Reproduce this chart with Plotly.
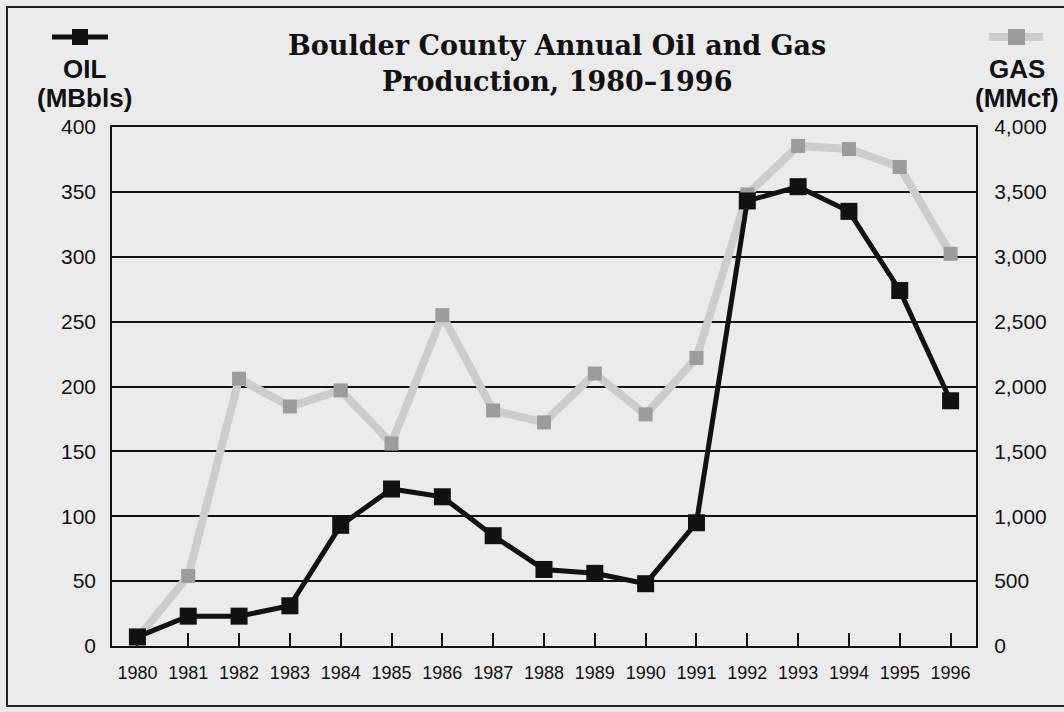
import plotly.graph_objects as go

years = list(range(1980, 1997))
oil_mbbls = [7, 23, 23, 31, 93, 121, 115, 85, 59, 56, 48, 95, 343, 354, 335, 274, 189]
gas_mmcf = [60, 540, 2060, 1846, 1970, 1560, 2550, 1815, 1723, 2100, 1785, 2220, 3480, 3854, 3830, 3692, 3023]
oil_ticks = list(range(0, 401, 50))
gas_ticks = list(range(0, 4001, 500))

W, H = 1064, 712
L, R, T, B = 112, 976, 127, 646  # plot area in pixels
BG = "#ebebeb"
INK = "#111111"
GAS_LINE = "#cccccc"
GAS_MARK = "#9c9c9c"
SANS = "Liberation Sans, Arial, sans-serif"


def px(x):
    return (x - L) / (R - L)


def py(y):
    return (B - y) / (B - T)


fig = go.Figure()
# gas sits on the base axis (y, right side) so that oil on the overlay axis is drawn on top
fig.add_trace(go.Scatter(
    x=years, y=gas_mmcf, yaxis="y", mode="lines+markers", name="GAS",
    line=dict(color=GAS_LINE, width=8),
    marker=dict(symbol="square", size=14, color=GAS_MARK),
))
fig.add_trace(go.Scatter(
    x=years, y=oil_mbbls, yaxis="y2", mode="lines+markers", name="OIL",
    line=dict(color=INK, width=5),
    marker=dict(symbol="square", size=17, color=INK),
))

shapes = [
    # outer frame
    dict(type="rect", xref="paper", yref="paper", x0=px(7), x1=px(1080), y0=py(706), y1=py(7),
         line=dict(color="#222222", width=2), layer="below"),
    # oil key
    dict(type="line", xref="paper", yref="paper", x0=px(52), x1=px(108), y0=py(37), y1=py(37),
         line=dict(color=INK, width=5)),
    dict(type="rect", xref="paper", yref="paper", x0=px(72), x1=px(88), y0=py(45), y1=py(29),
         fillcolor=INK, line=dict(width=0)),
    # gas key
    dict(type="line", xref="paper", yref="paper", x0=px(989), x1=px(1043), y0=py(37), y1=py(37),
         line=dict(color=GAS_LINE, width=8)),
    dict(type="rect", xref="paper", yref="paper", x0=px(1008), x1=px(1025), y0=py(45), y1=py(29),
         fillcolor=GAS_MARK, line=dict(width=0)),
]


def label(text, x, y, size, family=SANS):
    return dict(text=text, x=px(x), y=py(y), xref="paper", yref="paper", showarrow=False,
                xanchor="center", yanchor="middle",
                font=dict(family=family, size=size, color=INK))


annotations = [
    label("<b>Boulder County Annual Oil and Gas</b>", 557, 46, 27, "DejaVu Serif, serif"),
    label("<b>Production, 1980–1996</b>", 557, 81, 27, "DejaVu Serif, serif"),
    label("<b>OIL</b>", 84, 69, 26),
    label("<b>(MBbls)</b>", 84, 98, 26),
    label("<b>GAS</b>", 1017, 69, 26),
    label("<b>(MMcf)</b>", 1017, 98, 26),
]

fig.update_layout(
    width=W, height=H,
    margin=dict(l=L, r=W - R, t=T, b=H - B),
    paper_bgcolor=BG, plot_bgcolor=BG,
    showlegend=False,
    shapes=shapes, annotations=annotations,
    xaxis=dict(
        range=[1979.5, 1996.5], tickmode="array", tickvals=years,
        ticks="inside", ticklen=13, tickwidth=2, tickcolor=INK,
        showgrid=False, zeroline=False,
        showline=True, linecolor=INK, linewidth=2, mirror=True,
        ticklabelstandoff=9,
        tickfont=dict(family=SANS, size=18, color=INK),
    ),
    yaxis=dict(
        range=[0, 4000], tickmode="array", tickvals=gas_ticks, tickformat=",",
        side="right", showgrid=True, gridcolor=INK, gridwidth=2, zeroline=False,
        showline=True, linecolor=INK, linewidth=2, mirror=True,
        ticks="", ticklabelstandoff=12,
        tickfont=dict(family=SANS, size=21, color=INK),
    ),
    yaxis2=dict(
        range=[0, 400], tickmode="array", tickvals=oil_ticks,
        overlaying="y", side="left", showgrid=False, zeroline=False,
        ticks="", ticklabelstandoff=15,
        tickfont=dict(family=SANS, size=21, color=INK),
    ),
)

# drop the page's default body margin so the figure fills the window exactly
fig.write_html(
    "out.html",
    config={"displayModeBar": False},
    post_script="document.body.style.margin = '0';",
)
